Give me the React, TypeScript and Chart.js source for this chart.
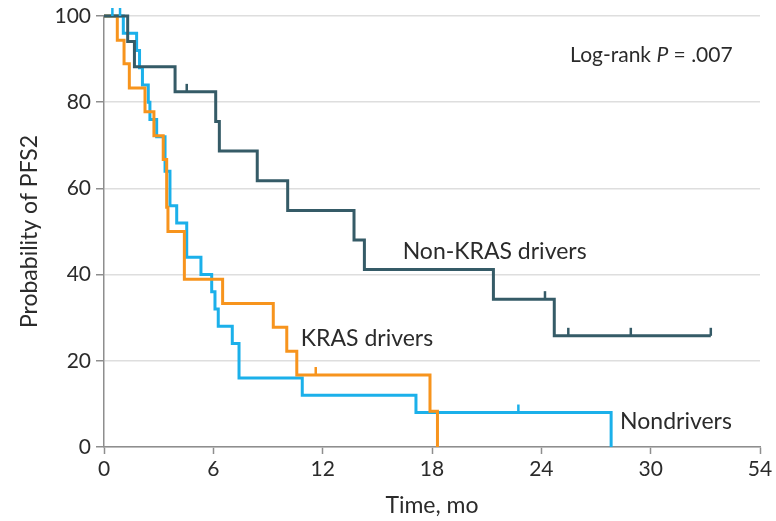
import { useEffect, useRef } from 'react';
import { Chart, registerables } from 'chart.js';

Chart.register(...registerables);

// ---- axis ticks ----
const X_TICKS = [0, 6, 12, 18, 24, 30, 36];
const X_TICK_LABELS = ['0', '6', '12', '18', '24', '30', '54'];
const Y_TICKS = [0, 20, 40, 60, 80, 100];

// ---- Non-KRAS drivers ----
const nonKrasTime = [0, 1.3, 1.67, 3.9, 6.13, 6.33, 8.41, 10.08, 13.72, 14.29, 21.37, 24.71, 33.3];
const nonKrasSurv = [100, 94.1, 88.2, 82.4, 75.5, 68.7, 61.8, 54.9, 48.0, 41.2, 34.3, 25.8, 25.8];
const nonKrasCensorTime = [4.54, 24.2, 25.48, 28.91, 33.3];
const nonKrasCensorSurv = [82.4, 34.3, 25.8, 25.8, 25.8];

// ---- KRAS drivers ----
const krasTime = [0, 0.73, 1.1, 1.39, 2.25, 2.74, 3.25, 3.44, 3.51, 4.41, 6.51, 9.29, 10.03, 10.58, 17.89, 18.3];
const krasSurv = [100, 94.4, 88.9, 83.3, 77.8, 72.2, 66.7, 55.6, 50.0, 38.9, 33.3, 27.8, 22.2, 16.7, 8.3, 0];
const krasCensorTime = [11.62];
const krasCensorSurv = [16.7];

// ---- Nondrivers ----
const nonDrvTime = [0, 1.06, 1.79, 1.95, 2.11, 2.43, 2.52, 2.89, 3.35, 3.62, 3.99, 4.54, 5.32, 5.91, 6.09, 6.27, 7.04, 7.41, 10.88, 17.12, 27.83];
const nonDrvSurv = [100, 96, 92, 88, 84, 80, 76, 72, 64, 56, 52, 44, 40, 36, 32, 28, 24, 16, 12, 8, 0];
const nonDrvCensorTime = [0.46, 0.88, 22.74];
const nonDrvCensorSurv = [100, 100, 8];

const COLORS = { nonKras: '#355b67', kras: '#f7941d', nonDrv: '#1bb0ea' };
const TEXT = '#2b2b2b';
const AXIS = '#8e8e8e';
const GRID = '#dedede';
const FAMILY = 'Lato, "Open Sans", sans-serif';

// label placements, in data coordinates (months, %)
const SERIES_LABELS = [
  { text: 'Non-KRAS drivers', x: 16.39, y: 43.65 },
  { text: 'KRAS drivers', x: 10.8, y: 23.5 },
  { text: 'Nondrivers', x: 28.32, y: 4.26 },
];
const PVALUE_POS = { x: 25.58, y: 89.4 };

const toPoints = (t: number[], s: number[]) => t.map((v, i) => ({ x: v, y: s[i] }));

const overlayPlugin = {
  id: 'kmOverlay',
  afterDatasetsDraw(chart: any) {
    const { ctx, scales } = chart;
    const xs = scales.x;
    const ys = scales.y;
    const censors = [
      { t: nonDrvCensorTime, s: nonDrvCensorSurv, c: COLORS.nonDrv },
      { t: krasCensorTime, s: krasCensorSurv, c: COLORS.kras },
      { t: nonKrasCensorTime, s: nonKrasCensorSurv, c: COLORS.nonKras },
    ];
    ctx.save();
    ctx.lineWidth = 2.5;
    ctx.lineCap = 'butt';
    censors.forEach((g) => {
      ctx.strokeStyle = g.c;
      g.t.forEach((tv, i) => {
        const px = xs.getPixelForValue(tv);
        const py = ys.getPixelForValue(g.s[i]);
        ctx.beginPath();
        ctx.moveTo(px, py);
        ctx.lineTo(px, py - 8);
        ctx.stroke();
      });
    });
    ctx.fillStyle = TEXT;
    ctx.textBaseline = 'alphabetic';
    ctx.textAlign = 'left';
    ctx.font = `23px ${FAMILY}`;
    SERIES_LABELS.forEach((l) => {
      ctx.fillText(l.text, xs.getPixelForValue(l.x), ys.getPixelForValue(l.y));
    });
    // Log-rank P = .007
    let px = xs.getPixelForValue(PVALUE_POS.x);
    const py = ys.getPixelForValue(PVALUE_POS.y);
    ctx.font = `21px ${FAMILY}`;
    const a = 'Log-rank ';
    ctx.fillText(a, px, py);
    px += ctx.measureText(a).width;
    ctx.font = `italic 21px ${FAMILY}`;
    ctx.fillText('P', px, py);
    px += ctx.measureText('P').width;
    ctx.font = `21px ${FAMILY}`;
    ctx.fillText(' = .007', px, py);
    ctx.restore();
  },
};

export default function App() {
  const ref = useRef<HTMLCanvasElement>(null);
  useEffect(() => {
    let chart: Chart | null = null;
    let cancelled = false;
    const build = () => {
      if (cancelled || !ref.current) return;
      const lineDs = (label: string, t: number[], s: number[], color: string) => ({
        label,
        data: toPoints(t, s),
        borderColor: color,
        backgroundColor: color,
        borderWidth: 3,
        pointRadius: 0,
        stepped: 'before' as const,
        fill: false,
        clip: false as any,
        borderCapStyle: 'butt' as const,
        borderJoinStyle: 'miter' as const,
      });
      chart = new Chart(ref.current, {
        type: 'line',
        data: {
          datasets: [
            lineDs('Non-KRAS drivers', nonKrasTime, nonKrasSurv, COLORS.nonKras),
            lineDs('KRAS drivers', krasTime, krasSurv, COLORS.kras),
            lineDs('Nondrivers', nonDrvTime, nonDrvSurv, COLORS.nonDrv),
          ],
        },
        options: {
          responsive: false,
          animation: false,
          layout: { padding: { top: 16, right: 16, left: 0, bottom: 0 } },
          plugins: { legend: { display: false }, tooltip: { enabled: false } },
          scales: {
            x: {
              type: 'linear',
              min: 0,
              max: 36,
              afterBuildTicks: (scale: any) => {
                scale.ticks = X_TICKS.map((v) => ({ value: v }));
              },
              afterFit: (scale: any) => {
                scale.height = 74;
                scale.paddingLeft = 0;
                scale.paddingRight = 0;
              },
              grid: {
                drawOnChartArea: false,
                drawTicks: true,
                tickLength: 7,
                tickColor: AXIS,
                tickWidth: 1.5,
                color: AXIS,
              },
              border: { display: true, color: AXIS, width: 1.5 },
              ticks: {
                autoSkip: false,
                maxRotation: 0,
                padding: 3,
                color: TEXT,
                font: { family: FAMILY, size: 21 },
                callback: (v: any) => {
                  const i = X_TICKS.indexOf(Number(v));
                  return i >= 0 ? X_TICK_LABELS[i] : '';
                },
              },
              title: {
                display: true,
                text: 'Time, mo',
                color: TEXT,
                font: { family: FAMILY, size: 23 },
                padding: { top: 0, bottom: 2 },
              },
            },
            y: {
              type: 'linear',
              min: 0,
              max: 100,
              afterBuildTicks: (scale: any) => {
                scale.ticks = Y_TICKS.map((v) => ({ value: v }));
              },
              afterFit: (scale: any) => {
                scale.width = 104;
                scale.paddingTop = 0;
                scale.paddingBottom = 0;
              },
              grid: {
                color: GRID,
                lineWidth: 1.5,
                drawTicks: true,
                tickLength: 8,
                tickColor: AXIS,
                tickWidth: 1.5,
              },
              border: { display: true, color: AXIS, width: 1.5 },
              ticks: {
                padding: 5,
                color: TEXT,
                font: { family: FAMILY, size: 21 },
              },
              title: {
                display: true,
                text: 'Probability of PFS2',
                color: TEXT,
                font: { family: FAMILY, size: 23 },
                padding: { top: 16, bottom: 0 },
              },
            },
          },
        },
        plugins: [overlayPlugin],
      });
    };
    const fonts: any = (document as any).fonts;
    if (fonts && fonts.load) {
      Promise.all([
        fonts.load(`21px Lato`),
        fonts.load(`23px Lato`),
        fonts.load(`italic 21px Lato`),
      ]).then(build, build);
    } else {
      build();
    }
    return () => {
      cancelled = true;
      if (chart) chart.destroy();
    };
  }, []);
  return (
    <div style={{ position: 'fixed', left: 0, top: 0, width: 776, height: 521, background: '#fff' }}>
      <canvas ref={ref} width={776} height={521} />
    </div>
  );
}
